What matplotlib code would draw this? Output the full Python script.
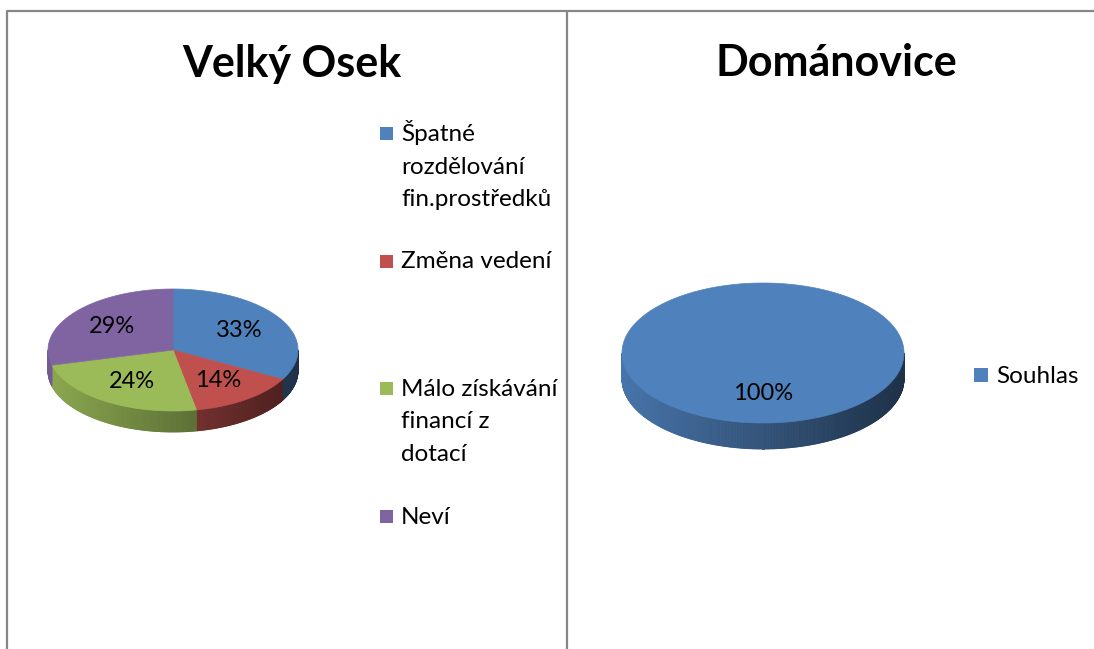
import numpy as np
import matplotlib
matplotlib.use("Agg")
import matplotlib.pyplot as plt
from matplotlib.patches import Polygon, Rectangle
from matplotlib.collections import PolyCollection
from matplotlib.colors import to_rgb

W, H = 1094, 649
FONT = ["Lato", "DejaVu Sans"]

# --- data ---
osek_title = "Velký Osek"
osek_labels = ["Špatné\nrozdělování\nfin.prostředků", "Změna vedení",
               "Málo získávání\nfinancí z\ndotací", "Neví"]
osek_values = [33, 14, 24, 29]
osek_colors = ["#4F81BD", "#C0504D", "#9BBB59", "#8064A2"]

doman_title = "Dománovice"
doman_labels = ["Souhlas"]
doman_values = [100]
doman_colors = ["#4F81BD"]


def ell(cx, cy, rx, ry, phi):
    # phi in degrees, clockwise from 12 o'clock, y axis points down
    a = np.radians(phi)
    return cx + rx * np.sin(a), cy - ry * np.cos(a)


def pie3d(ax, values, colors, cx, cy, rx, ry, depth, label_r=0.6, fontsize=17):
    total = float(sum(values))
    bounds = np.concatenate([[0], np.cumsum(values)]) / total * 360

    # front wall, shaded darker towards the right
    strips, cols = [], []
    for i, col in enumerate(colors):
        lo, hi = max(bounds[i], 90), min(bounds[i + 1], 270)
        if hi <= lo:
            continue
        ph = np.linspace(lo, hi, int((hi - lo) * 2) + 2)
        for p0, p1 in zip(ph[:-1], ph[1:]):
            x0, y0 = ell(cx, cy, rx, ry, p0)
            x1, y1 = ell(cx, cy, rx, ry, p1)
            strips.append([(x0, y0), (x1, y1), (x1, y1 + depth), (x0, y0 + depth)])
            t = (1 - np.sin(np.radians((p0 + p1) / 2))) / 2
            cols.append(tuple(np.array(to_rgb(col)) * (0.38 + 0.52 * t)))
    ax.add_collection(PolyCollection(strips, facecolors=cols, edgecolors=cols, linewidths=0.6))

    # top face
    for i, col in enumerate(colors):
        ph = np.linspace(bounds[i], bounds[i + 1], 200)
        xs, ys = ell(cx, cy, rx, ry, ph)
        pts = list(zip(xs, ys))
        if values[i] < total:
            pts = [(cx, cy)] + pts
        ax.add_patch(Polygon(pts, closed=True, facecolor=col, edgecolor=col, lw=0.5))

    # percentage labels
    for i, v in enumerate(values):
        mid = (bounds[i] + bounds[i + 1]) / 2
        x, y = ell(cx, cy, rx * label_r, ry * label_r, mid)
        ax.text(x, y, f"{v / total * 100:.0f}%", ha="center", va="center",
                fontsize=fontsize, family=FONT, color="black")


def legend(ax, labels, colors, x, y0, step, fontsize=17.5, box=13, line_h=32.5):
    for i, (lab, col) in enumerate(zip(labels, colors)):
        y = y0 + i * step
        ax.add_patch(Rectangle((x, y - box - 1), box, box, facecolor=col, edgecolor="none"))
        for j, line in enumerate(lab.split("\n")):
            ax.text(x + box + 8, y + j * line_h, line, ha="left", va="baseline",
                    fontsize=fontsize, family=FONT, color="black")


fig = plt.figure(figsize=(W / 100, H / 100), dpi=100)
ax = fig.add_axes([0, 0, 1, 1])
ax.set_xlim(0, W)
ax.set_ylim(H, 0)
ax.axis("off")

# frame lines
ax.plot([7, 7, W], [H, 11, 11], color="#868686", lw=1.6, solid_capstyle="butt")
ax.plot([567, 567], [11, H], color="#868686", lw=1.6, solid_capstyle="butt")

# left chart
ax.text(292, 77, osek_title, ha="center", va="baseline", fontsize=31,
        fontweight="bold", family=FONT)
pie3d(ax, osek_values, osek_colors, 173, 350, 125, 61, 21, label_r=0.62)
legend(ax, osek_labels, osek_colors, 380, 141, 127.5)

# right chart
ax.text(836, 76, doman_title, ha="center", va="baseline", fontsize=31,
        fontweight="bold", family=FONT)
pie3d(ax, doman_values, doman_colors, 763, 353, 141, 70, 26, label_r=0.58)
legend(ax, doman_labels, doman_colors, 974, 383, 0, box=14)

fig.savefig("out.png", dpi=100)
